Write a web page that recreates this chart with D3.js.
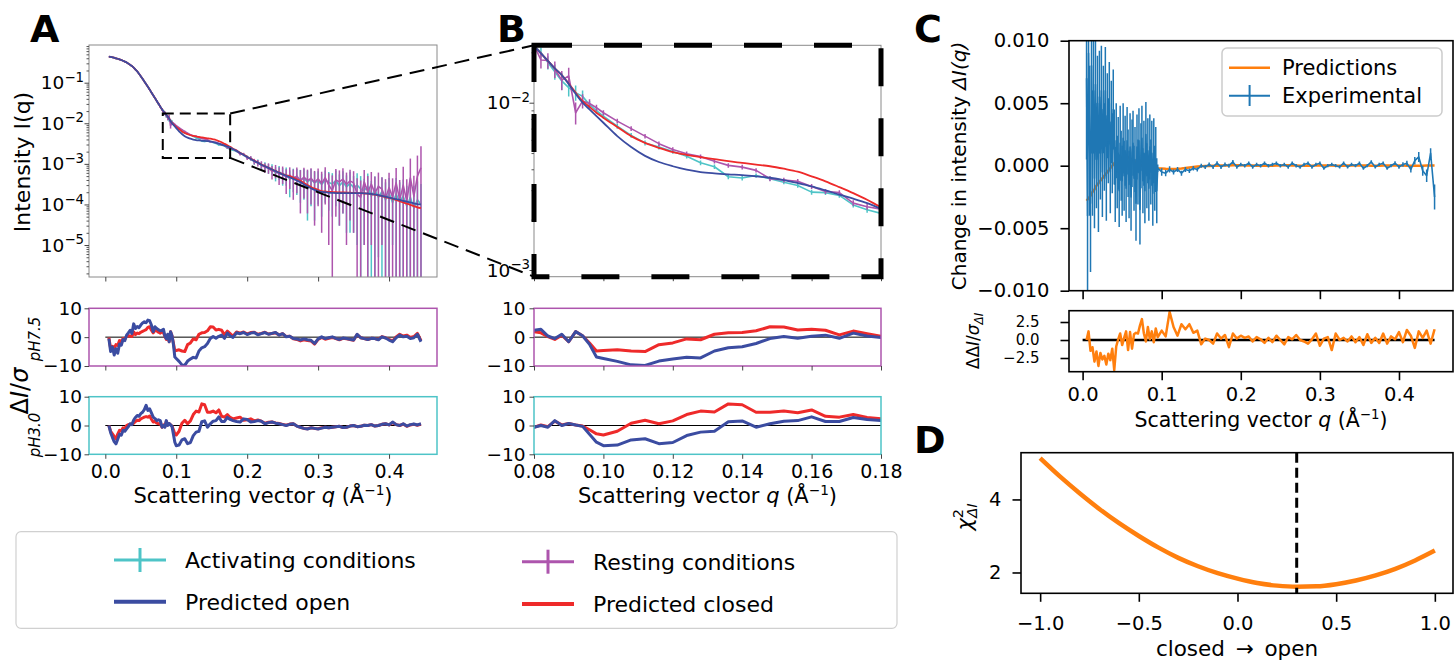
<!DOCTYPE html>
<html><head><meta charset="utf-8">
<script src="https://cdn.jsdelivr.net/npm/d3@7/dist/d3.min.js"></script>
<style>
body{margin:0;background:#fff;}
svg{display:block;font-family:"DejaVu Sans",sans-serif;}
</style></head><body>
<svg id="fig" width="1455" height="662"></svg>
<script>
// ---------------- DATA ----------------
const qExp = [0.005,0.0075,0.01,0.0125,0.015,0.0175,0.02,0.0225,0.025,0.0275,0.03,0.0325,0.035,0.0375,0.04,0.0425,0.045,0.0475,0.05,0.0525,0.055,0.0575,0.06,0.0625,0.065,0.0675,0.07,0.0725,0.075,0.0775,
0.08,0.082,0.084,0.086,0.088,0.09,0.092,0.094,0.096,0.098,0.1,0.104,0.108,0.112,0.116,0.12,0.124,0.128,0.132,0.136,0.14,0.144,0.148,0.152,0.156,0.16,0.164,0.168,0.172,0.176,0.18,
0.185,0.19,0.195,0.2,0.205,0.21,0.215,0.22,0.225,0.23,0.235,0.24,0.245,0.25,0.255,0.26,0.265,0.27,0.275,0.28,0.285,0.29,0.295,0.3,0.305,0.31,0.315,0.32,0.325,0.33,0.335,0.34,0.345,0.35,0.355,0.36,0.365,0.37,0.375,0.38,0.385,0.39,0.395,0.4,0.405,0.41,0.415,0.42,0.425,0.43,0.435,0.44,0.445];

const iOpen = [0.4365,0.4315,0.4217,0.4121,0.3981,0.3890,0.3758,0.3631,0.3467,0.3311,0.3162,0.2951,0.2754,0.2570,0.2344,0.2113,0.1905,0.1660,0.1445,0.1245,0.1072,0.0923,0.0794,0.0676,0.0575,0.0490,0.0417,0.0355,0.0302,0.0257,
0.02188,0.01972,0.01778,0.01603,0.01462,0.01294,0.01130,0.01000,0.00912,0.00832,0.00759,0.00631,0.00543,0.00481,0.00442,0.00417,0.00398,0.00385,0.00378,0.00373,0.00369,0.00363,0.00356,0.00345,0.00331,0.00316,0.00299,0.00282,0.00267,0.00251,0.00232,
2.089e-3,1.862e-3,1.660e-3,1.479e-3,1.318e-3,1.175e-3,1.072e-3,9.55e-4,8.71e-4,7.94e-4,7.24e-4,6.61e-4,6.03e-4,5.50e-4,5.07e-4,4.68e-4,4.27e-4,3.89e-4,3.55e-4,3.16e-4,2.82e-4,2.51e-4,2.29e-4,2.14e-4,2.04e-4,2.00e-4,1.95e-4,1.93e-4,1.91e-4,1.91e-4,1.91e-4,1.91e-4,1.91e-4,1.91e-4,1.91e-4,1.91e-4,1.88e-4,1.86e-4,1.82e-4,1.76e-4,1.70e-4,1.62e-4,1.55e-4,1.48e-4,1.41e-4,1.35e-4,1.29e-4,1.23e-4,1.17e-4,1.12e-4,1.07e-4,1.02e-4,1.00e-4];

const iClosed = [0.4365,0.4315,0.4217,0.4121,0.3981,0.3890,0.3758,0.3631,0.3467,0.3311,0.3162,0.2951,0.2754,0.2570,0.2344,0.2113,0.1905,0.1660,0.1445,0.1245,0.1072,0.0923,0.0794,0.0676,0.0575,0.0490,0.0417,0.0355,0.0302,0.0257,
0.02188,0.01972,0.01778,0.01603,0.01462,0.01303,0.01148,0.01023,0.00944,0.00871,0.00813,0.00716,0.00631,0.00575,0.00537,0.00507,0.00488,0.00473,0.00460,0.00447,0.00437,0.00427,0.00417,0.00403,0.00387,0.00363,0.00339,0.00313,0.00288,0.00263,0.00237,
2.13e-3,1.88e-3,1.68e-3,1.50e-3,1.33e-3,1.19e-3,1.08e-3,9.66e-4,8.8e-4,8.03e-4,7.32e-4,6.68e-4,6.1e-4,5.58e-4,5.2e-4,5.0e-4,4.57e-4,4.17e-4,3.80e-4,3.39e-4,3.02e-4,2.69e-4,2.45e-4,2.29e-4,2.14e-4,2.09e-4,2.04e-4,2.02e-4,2.0e-4,1.99e-4,1.98e-4,1.96e-4,1.95e-4,1.93e-4,1.91e-4,1.90e-4,1.87e-4,1.84e-4,1.80e-4,1.74e-4,1.68e-4,1.60e-4,1.52e-4,1.45e-4,1.38e-4,1.29e-4,1.20e-4,1.12e-4,1.05e-4,9.8e-5,9.1e-5,8.5e-5,8.1e-5];

const iAct = [0.437,0.432,0.421,0.413,0.397,0.390,0.375,0.364,0.346,0.332,0.315,0.296,0.274,0.258,0.233,0.212,0.189,0.167,0.143,0.1255,0.1065,0.0930,0.0788,0.0682,0.0570,0.0495,0.0412,0.0360,0.0298,0.0261,
0.02213,0.01995,0.01738,0.01531,0.01349,0.01230,0.01148,0.01091,0.00973,0.00895,0.00832,0.00724,0.00638,0.00575,0.00543,0.00511,0.00479,0.00437,0.00414,0.00361,0.00355,0.00367,0.00351,0.00335,0.00320,0.00292,0.00290,0.00279,0.00245,0.00229,0.00218,
2.05e-3,1.82e-3,1.68e-3,1.46e-3,1.36e-3,1.12e-3,1.10e-3,9.2e-4,9.0e-4,7.8e-4,7.6e-4,6.0e-4,6.4e-4,5.4e-4,5.5e-4,4.2e-4,4.8e-4,4.6e-4,4.1e-4,4.4e-4,3.6e-4,4.2e-4,3.4e-4,3.8e-4,3.1e-4,4.0e-4,3.5e-4,3.2e-4,3.9e-4,2.9e-4,3.6e-4,2.7e-4,3.3e-4,2.6e-4,3.0e-4,2.4e-4,2.2e-4,2.8e-4,1.6e-4,2.3e-4,1.5e-4,2.1e-4,1.3e-4,1.9e-4,1.1e-4,1.8e-4,1.2e-4,1.6e-4,9e-5,1.5e-4,8e-5,1.3e-4,1.0e-4];

const eAct = [9e-4,8e-4,8e-4,7e-4,7e-4,7e-4,6e-4,6e-4,6e-4,6e-4,6e-4,6e-4,6e-4,6e-4,6e-4,6e-4,6e-4,6e-4,7e-4,7e-4,7e-4,8e-4,8e-4,9e-4,9e-4,1.0e-3,1.0e-3,1.1e-3,1.2e-3,1.3e-3,
1.5e-3,1.4e-3,1.6e-3,1.6e-3,1.6e-3,1.4e-3,1.2e-3,9e-4,5e-4,4e-4,3e-4,2.5e-4,2e-4,2e-4,1.8e-4,1.6e-4,1.5e-4,1.4e-4,1.3e-4,1.2e-4,1.2e-4,1.1e-4,1.1e-4,1.0e-4,1.0e-4,1.0e-4,9e-5,9e-5,9e-5,9e-5,9e-5,
1.2e-4,1.3e-4,1.4e-4,1.5e-4,1.6e-4,1.7e-4,1.8e-4,1.9e-4,2.0e-4,2.1e-4,2.2e-4,2.3e-4,2.4e-4,2.5e-4,2.6e-4,2.7e-4,2.8e-4,2.9e-4,3.0e-4,3.1e-4,3.2e-4,3.3e-4,3.0e-4,2.8e-4,2.6e-4,2.9e-4,2.8e-4,2.7e-4,3.0e-4,2.6e-4,3.0e-4,2.5e-4,3.1e-4,2.4e-4,2.9e-4,2.6e-4,2.1e-4,3.0e-4,2.2e-4,2.6e-4,1.45e-4,2.5e-4,2.2e-4,2.6e-4,1.0e-4,2.7e-4,2.3e-4,2.5e-4,2.0e-4,2.6e-4,2.1e-4,2.4e-4,2.2e-4];

const iRest = [0.438,0.430,0.423,0.411,0.399,0.388,0.377,0.362,0.348,0.330,0.317,0.294,0.276,0.256,0.235,0.210,0.191,0.165,0.145,0.1238,0.1078,0.0917,0.0799,0.0670,0.0580,0.0486,0.0421,0.0351,0.0305,0.0254,
0.02213,0.01799,0.01786,0.01585,0.01365,0.01445,0.00871,0.01023,0.00989,0.00933,0.00871,0.00776,0.00700,0.00631,0.00569,0.00525,0.00495,0.00476,0.00447,0.00422,0.00412,0.00394,0.00351,0.00345,0.00339,0.00316,0.00295,0.00290,0.00251,0.00239,0.00231,
2.10e-3,1.75e-3,1.72e-3,1.40e-3,1.38e-3,1.15e-3,1.05e-3,9.6e-4,8.2e-4,8.0e-4,6.5e-4,6.9e-4,5.6e-4,5.9e-4,4.6e-4,5.3e-4,4.3e-4,5.0e-4,3.8e-4,4.7e-4,3.9e-4,4.4e-4,3.5e-4,4.3e-4,3.3e-4,4.6e-4,3.0e-4,2.2e-4,4.0e-4,3.6e-4,4.2e-4,3.1e-4,3.8e-4,3.4e-4,1.8e-4,1.5e-4,3.6e-4,2.0e-4,3.2e-4,1.9e-4,2.8e-4,2.4e-4,1.4e-4,2.6e-4,1.5e-4,3.4e-4,1.3e-4,3.0e-4,1.2e-4,4.5e-4,1.6e-4,5.0e-4,8.0e-4];

const eRest = [1.0e-3,9e-4,9e-4,8e-4,8e-4,8e-4,7e-4,7e-4,7e-4,7e-4,7e-4,7e-4,7e-4,7e-4,7e-4,7e-4,7e-4,7e-4,8e-4,8e-4,8e-4,9e-4,9e-4,1.0e-3,1.0e-3,1.1e-3,1.2e-3,1.3e-3,1.4e-3,1.6e-3,
1.8e-3,2.0e-3,1.9e-3,1.8e-3,1.8e-3,1.7e-3,1.3e-3,1.0e-3,6e-4,4e-4,3e-4,2.5e-4,2.2e-4,2e-4,1.8e-4,1.7e-4,1.6e-4,1.5e-4,1.4e-4,1.3e-4,1.3e-4,1.2e-4,1.2e-4,1.1e-4,1.1e-4,1.1e-4,1.0e-4,1.0e-4,1.0e-4,1.0e-4,1.0e-4,
1.3e-4,1.4e-4,1.5e-4,1.6e-4,1.7e-4,1.8e-4,1.9e-4,2.0e-4,2.2e-4,2.3e-4,2.4e-4,2.5e-4,2.6e-4,2.7e-4,2.8e-4,2.9e-4,3.0e-4,3.1e-4,3.2e-4,3.3e-4,3.3e-4,3.4e-4,3.2e-4,3.4e-4,3.1e-4,3.6e-4,2.9e-4,3.0e-4,3.5e-4,3.3e-4,3.6e-4,3.0e-4,3.4e-4,3.2e-4,2.6e-4,2.4e-4,3.5e-4,3.0e-4,3.1e-4,3.0e-4,3.3e-4,2.3e-4,2.8e-4,3.4e-4,2.9e-4,4.5e-4,2.7e-4,5.5e-4,3.0e-4,9.0e-4,3.5e-4,1.1e-3,1.9e-3];

// residuals  (I_exp - I_pred)/sigma
const resRestOpen = [-0.5,-5.0,-3.4,-6.2,-4.0,-5.6,-2.4,-2.8,-0.8,-1.2,0.7,1.5,2.4,1.3,4.6,3.0,3.7,3.3,4.2,4.9,5.3,5.0,5.9,5.7,4.2,1.9,3.6,3.0,2.6,2.2,
2.4,2.7,0.4,-0.5,1.0,-1.6,1.9,0.5,-2.5,-6.9,-7.4,-8.4,-9.6,-9.8,-8.3,-7.6,-7.0,-7.2,-4.8,-3.7,-3.3,-2.2,-0.5,0.2,-0.4,0.3,0.7,-0.4,1.4,0.4,-0.1,
1.5,1.2,1.6,0.9,1.4,1.6,0.8,1.2,1.6,1.0,1.3,1.6,0.7,1.2,0.1,0.3,-0.5,-0.6,-1.0,-0.6,-0.9,-1.1,-2.2,-0.6,0.1,-0.5,-0.2,0.1,-0.4,-0.8,-0.3,-0.5,-0.7,-1.0,1.0,-0.2,-0.5,-0.8,-0.4,-0.5,-0.9,0.1,-0.3,-1.0,-1.6,-0.2,0.7,0.1,0.3,-0.5,-0.2,1.0,-1.6];
const resRestClosed = [-0.1,-3.9,-3.2,-3.8,-2.6,-2.9,-1.2,-1.6,-0.5,-0.7,0.3,0.5,0.4,0.2,1.8,0.9,1.4,1.2,1.7,2.0,2.3,2.6,3.4,3.6,2.4,1.5,2.4,2.2,1.7,1.4,
1.9,1.5,0.2,-0.8,0.7,-1.6,1.9,0.5,-2.0,-4.8,-4.6,-4.4,-4.8,-5.0,-2.6,-2.0,-0.6,-0.9,1.0,1.5,1.6,2.2,3.6,3.5,2.5,2.7,2.4,0.8,2.1,1.2,0.3,
1.8,1.4,1.8,1.1,1.6,1.7,1.0,1.3,1.7,1.1,1.3,1.5,0.8,1.2,0.2,0.3,-0.6,-0.8,-1.3,-0.9,-1.2,-1.3,-2.4,-0.8,-0.1,-0.7,-0.4,-0.1,-0.5,-0.9,-0.4,-0.6,-0.8,-1.1,0.9,-0.2,-0.5,-0.8,-0.4,-0.5,-0.8,0.2,-0.2,-0.8,-1.3,0.1,1.0,0.4,0.7,-0.1,0.2,1.3,-1.2];
const resActOpen = [0.0,-2.5,-4.1,-5.6,-6.4,-4.8,-3.0,-3.4,-1.7,-2.0,-1.2,-0.4,0.6,0.3,1.9,2.8,3.5,3.2,4.1,4.6,5.5,7.0,5.2,5.8,4.4,2.9,2.4,1.7,2.0,1.7,
-0.6,0.0,-0.6,1.7,0.0,0.7,0.2,-0.3,-3.0,-5.8,-7.0,-6.8,-5.0,-4.6,-6.3,-5.9,-3.5,-2.3,-2.0,1.3,1.6,-0.6,0.6,1.5,1.7,3.0,1.4,1.4,2.8,2.1,1.7,
1.4,1.2,2.3,2.1,1.2,1.4,1.7,1.5,0.6,1.0,1.2,0.8,0.6,0.3,0.0,0.4,0.6,-0.2,-0.6,-1.0,-1.2,-0.8,-1.0,-1.2,-0.9,-0.6,-0.8,-0.6,-0.4,-0.3,-0.7,-0.6,-0.2,0.0,-0.4,-0.3,0.1,0.0,0.3,-0.2,0.0,0.4,0.6,0.2,1.2,0.3,0.0,0.6,-0.2,0.3,0.5,0.2,0.6];
const resActClosed = [0.0,-2.0,-2.9,-3.8,-4.6,-3.0,-1.7,-1.9,-0.8,-1.0,0.0,0.3,0.5,0.4,0.8,1.4,1.8,1.7,2.3,2.6,2.9,3.1,2.9,3.3,2.2,1.2,1.4,0.8,0.6,0.6,
-0.6,0.2,-0.4,1.5,0.2,0.7,0.2,-0.2,-1.5,-2.9,-3.3,-2.0,0.8,1.8,0.6,1.6,3.8,5.0,4.7,7.5,7.2,4.6,4.6,5.0,4.4,5.4,3.2,2.9,3.8,2.8,2.3,
2.6,2.9,1.8,2.0,2.3,1.6,1.9,1.5,0.8,1.1,1.2,0.9,0.7,0.4,0.1,0.5,0.6,-0.2,-0.6,-1.0,-1.1,-0.8,-1.0,-1.1,-0.8,-0.6,-0.8,-0.6,-0.4,-0.3,-0.7,-0.6,-0.2,0.0,-0.4,-0.3,0.1,0.0,0.3,-0.2,0.0,0.4,0.6,0.2,1.0,0.3,0.0,0.5,-0.3,0.2,0.4,0.1,0.5];

// panel C : experimental difference curve (dense grid)
const qCExp = [0.005,0.00625,0.0075,0.00875,0.01,0.01125,0.0125,0.01375,
0.015,0.01625,0.0175,0.01875,0.02,0.02125,0.0225,0.02375,0.025,0.02625,0.0275,0.02875,0.03,0.03125,0.0325,0.03375,0.035,0.03625,0.0375,0.03875,
0.04,0.04125,0.0425,0.04375,0.045,0.04625,0.0475,0.04875,0.05,0.05125,0.0525,0.05375,0.055,0.05625,0.0575,0.05875,0.06,0.06125,0.0625,0.06375,0.065,0.06625,0.0675,0.06875,0.07,0.07125,0.0725,0.07375,0.075,0.07625,0.0775,0.07875,0.08,0.08125,0.0825,0.08375,0.085,0.08625,0.0875,0.08875,0.09,0.09125,0.0925,0.09375,
0.095,0.1,0.105,0.11,0.115,0.12,0.125,0.13,0.135,0.14,0.145,0.15,0.155,0.16,0.165,0.17,0.175,0.18,0.185,0.19,0.195,0.2,0.205,0.21,0.215,0.22,0.225,0.23,0.235,0.24,0.245,0.25,0.255,0.26,0.265,0.27,0.275,0.28,0.285,0.29,0.295,0.3,0.305,0.31,0.315,0.32,0.325,0.33,0.335,0.34,0.345,0.35,0.355,0.36,0.365,0.37,0.375,0.38,0.385,0.39,0.395,0.4,0.405,0.41,0.415,0.42,0.425,0.43,0.435,0.44,0.445];
const dIExp = [0.0070,-0.0040,0.0090,0.0020,-0.0030,0.0080,0.0010,0.0060,
-0.0010,0.0065,0.0005,0.0050,-0.0015,0.0055,0.0010,0.0060,-0.0005,0.0045,0.0015,0.0060,-0.0010,0.0040,0.0020,0.0050,-0.0005,0.0035,0.0010,0.0045,
0.0015,-0.0015,0.0020,-0.0005,0.0010,-0.0020,0.0018,0.0000,-0.0012,0.0022,-0.0008,0.0012,-0.0018,0.0020,0.0002,-0.0015,0.0015,-0.0025,0.0010,0.0018,-0.0010,0.0005,-0.0030,0.0015,-0.0005,0.0020,-0.0035,0.0008,0.0022,-0.0012,0.0010,-0.0020,0.0025,-0.0008,0.0012,-0.0018,0.0015,-0.0005,0.0010,-0.0022,0.0012,-0.0010,0.0005,-0.0020,
-0.0002,-0.0005,-0.0006,-0.0003,-0.0005,-0.0003,-0.0006,-0.0003,-0.0004,-0.0002,-0.0003,0.0,-0.0001,0.0001,-0.0001,0.0002,-0.0001,0.0001,0.0,0.0003,-0.0001,0.0001,0.0,0.0002,-0.0001,0.0001,0.0,0.0002,0.0,0.0001,0.0002,0.0,0.0001,-0.0001,0.0002,0.0,-0.0001,0.0001,0.0002,-0.0001,0.0001,0.0002,-0.0002,0.0,0.0001,0.0,-0.0001,0.0002,-0.0001,0.0001,0.0,0.0002,-0.0002,0.0,0.0003,-0.0001,0.0001,0.0002,-0.0002,0.0,0.0002,-0.0001,0.0001,0.0002,-0.0003,0.0004,0.0007,-0.0004,-0.0008,0.0010,-0.0025];
const dIErr = [0.0065,0.0070,0.0060,0.0060,0.0055,0.0055,0.0050,0.0050,
0.0040,0.0040,0.0039,0.0038,0.0038,0.0037,0.0037,0.0036,0.0036,0.0035,0.0035,0.0035,0.0034,0.0034,0.0034,0.0033,0.0033,0.0033,0.0032,0.0032,
0.0030,0.0030,0.0030,0.0029,0.0029,0.0029,0.0030,0.0028,0.0028,0.0028,0.0028,0.0028,0.0027,0.0027,0.0027,0.0027,0.0027,0.0027,0.0027,0.0026,0.0026,0.0026,0.0030,0.0026,0.0026,0.0026,0.0028,0.0026,0.0026,0.0026,0.0026,0.0026,0.0026,0.0026,0.0026,0.0026,0.0026,0.0026,0.0026,0.0026,0.0026,0.0026,0.0026,0.0026,
0.0003,0.0003,0.00025,0.00025,0.0002,0.0002,0.0002,0.0002,0.00018,0.00018,0.00016,0.00016,0.00016,0.00016,0.00016,0.00016,0.00016,0.00016,0.00016,0.00016,
0.00014,0.00014,0.00014,0.00014,0.00014,0.00014,0.00014,0.00014,0.00014,0.00014,0.00014,0.00014,0.00014,0.00014,0.00014,0.00014,0.00014,0.00014,0.00014,0.00014,
0.00013,0.00013,0.00013,0.00013,0.00013,0.00013,0.00013,0.00013,0.00013,0.00013,0.00013,0.00013,0.00013,0.00013,0.00013,0.00013,0.00013,0.00013,0.00013,0.00013,
0.00015,0.00015,0.00018,0.0002,0.00025,0.0003,0.0004,0.0004,0.0005,0.0004,0.001];

// panel C : prediction and normalised residual
const qC = [0.005,0.0075,0.01,0.0125,0.015,0.0175,0.02,0.0225,0.025,0.0275,0.03,0.0325,0.035,0.0375,0.04,0.0425,0.045,0.0475,0.05,0.0525,0.055,0.0575,0.06,0.0625,0.065,0.0675,0.07,0.0725,0.075,0.0775,0.08,0.0825,0.085,0.0875,0.09,0.0925,
0.095,0.1,0.105,0.11,0.115,0.12,0.125,0.13,0.135,0.14,0.145,0.15,0.155,0.16,0.165,0.17,0.175,0.18,0.185,0.19,0.195,0.2,0.205,0.21,0.215,0.22,0.225,0.23,0.235,0.24,0.245,0.25,0.255,0.26,0.265,0.27,0.275,0.28,0.285,0.29,0.295,0.3,0.305,0.31,0.315,0.32,0.325,0.33,0.335,0.34,0.345,0.35,0.355,0.36,0.365,0.37,0.375,0.38,0.385,0.39,0.395,0.4,0.405,0.41,0.415,0.42,0.425,0.43,0.435,0.44,0.445];
const dIPred = [-0.0028,-0.0026,-0.0024,-0.0021,-0.0019,-0.0016,-0.0014,-0.0012,-0.0010,-0.0008,-0.0006,-0.0004,-0.0002,0.0000,0.0002,0.0004,0.0005,0.0006,0.0007,0.0007,0.0007,0.0007,0.0006,0.0005,0.0004,0.0003,0.0002,0.0001,0.0000,-0.0001,-0.0001,-0.0001,-0.0001,-0.0001,-0.0001,-0.0001,
-0.0002,-0.00022,-0.00025,-0.00026,-0.00026,-0.00025,-0.00022,-0.00018,-0.00014,-0.0001,-0.00007,-0.00005,-0.00003,-0.00002,-0.00001,
0,0.00001,0.00002,0.00002,0.00003,0.00003,0.00003,0.00002,0.00002,0.00001,0,0,-0.00001,-0.00001,0,0.00001,0.00002,0.00003,0.00003,0.00002,0.00001,0,0,-0.00001,0,0.00001,0.00001,0.00002,0.00002,0.00001,0,0,0,0.00001,0.00001,0.00002,0.00002,0.00001,0.00001,0,0,0,0.00001,0.00001,0.00001,0.00002,0.00002,0.00001,0,0,-0.00001,-0.00001,0,0.00001,0.00001,0.00001];
const dIRes = [0.0,1.2,-1.5,-1.0,-3.0,-1.6,-3.6,-1.8,-2.7,-2.2,-3.4,-1.9,-2.8,-1.2,-4.2,-0.9,0.1,0.9,-0.7,0.3,1.2,-1.4,1.1,-1.2,0.8,1.0,0.9,2.0,2.9,0.9,-0.2,1.8,0.1,1.2,-0.3,1.6,
0.4,1.3,0.5,3.9,1.8,0.6,2.2,1.5,2.2,1.0,1.3,-0.6,0.2,0.0,-0.5,0.9,0.2,0.7,-1.0,0.9,0.2,0.6,0.3,0.5,-0.2,0.4,0.1,-0.4,0.3,-0.3,0.6,0.0,-0.6,0.4,0.1,0.7,0.0,-0.2,-0.5,0.1,0.9,-0.8,0.2,0.4,-1.4,0.9,0.0,0.3,-0.2,0.5,-0.3,0.4,-0.7,0.8,-0.4,0.3,-0.4,0.9,-0.5,0.5,0.1,1.1,-0.3,1.4,0.6,-1.1,1.2,0.3,1.3,-0.5,1.5];

// panel D
const fracOpen = [-1.0,-0.9,-0.8,-0.7,-0.6,-0.5,-0.4,-0.3,-0.2,-0.1,0.0,0.1,0.2,0.3,0.4,0.5,0.6,0.7,0.8,0.9,1.0];
const chi2 = [5.13,4.63,4.17,3.74,3.35,3.0,2.68,2.4,2.17,1.98,1.83,1.71,1.64,1.61,1.62,1.68,1.78,1.92,2.1,2.33,2.6];
const bestFrac = [0.3];

// zoom window of A shown in B
const zoomQ = [0.081, 0.176];
const zoomI = [0.0014, 0.0174];

// ticks & labels
const xTicksA = [0, 0.1, 0.2, 0.3, 0.4];
const xTicksB = [0.08, 0.10, 0.12, 0.14, 0.16, 0.18];
const resTicks = [-10, 0, 10];
const cYTicks = [-0.01, -0.005, 0, 0.005, 0.01];
const cResTicks = [-2.5, 0, 2.5];
const dXTicks = [-1, -0.5, 0, 0.5, 1];
const dYTicks = [2, 4];
const legendLabels = ['Activating conditions', 'Predicted open', 'Resting conditions', 'Predicted closed'];
const legendC = ['Predictions', 'Experimental'];

// ---------------- DRAWING ----------------
const svg = d3.select('#fig');
const defs = svg.append('defs');
const F = 'DejaVu Sans';
const COL = {act:'#4ec4c7', rest:'#ad55ad', open:'#3b4ca1', closed:'#ee2a2a', blue:'#1f77b4', orange:'#ff7f0e'};

function clipRect(id, x0, x1, y0, y1){
  defs.append('clipPath').attr('id', id).append('rect')
    .attr('x', x0).attr('y', y0).attr('width', x1 - x0).attr('height', y1 - y0);
  return `url(#${id})`;
}
function frame(x0, x1, y0, y1, color, w){
  return svg.append('rect').attr('x', x0).attr('y', y0).attr('width', x1 - x0).attr('height', y1 - y0)
    .attr('fill', 'none').attr('stroke', color).attr('stroke-width', w);
}
function axis(gen, tr, o = {}){
  const g = svg.append('g').attr('transform', tr).call(gen);
  g.select('.domain').remove();
  g.selectAll('.tick line').attr('stroke', o.tc || '#000').attr('stroke-width', o.tw || 1);
  g.selectAll('.tick text').attr('font-family', F).attr('font-size', o.fs || 19).attr('fill', '#000');
  return g;
}
function rich(parent, x, y, parts, fs, anchor){
  const t = parent.append('text').attr('x', x).attr('y', y).attr('font-family', F)
    .attr('font-size', fs).attr('text-anchor', anchor || 'start').attr('fill', '#000');
  let shift = 0;
  parts.forEach(p => {
    const s = t.append('tspan').text(p.t);
    if (p.it) s.attr('font-style', 'italic');
    const target = p.sup ? -0.4 * fs : (p.sub ? 0.25 * fs : 0);
    if (p.sup || p.sub) s.attr('font-size', fs * (p.sc || 0.7));
    if (p.dx) s.attr('dx', p.dx);
    const dy = target - shift;
    if (dy) s.attr('dy', dy);
    shift = target;
  });
  return t;
}
function vlabel(xc, yc, parts, fs){
  return rich(svg, 0, 0, parts, fs, 'middle').attr('transform', `translate(${xc + 0.36 * fs},${yc}) rotate(-90)`);
}
function logMinor(dom){
  const out = [];
  for (let d = -7; d <= 0; d++) for (let m = 2; m <= 9; m++){
    const v = m * Math.pow(10, d);
    if (v > dom[0] && v < dom[1]) out.push(v);
  }
  return out;
}
function logMajor(dom){
  const out = [];
  for (let d = -7; d <= 0; d++){ const v = Math.pow(10, d); if (v >= dom[0] && v <= dom[1]) out.push(v); }
  return out;
}

// draw intensity panel (A or B)
function intensityPanel(xs, ys, id){
  const [x0, x1] = xs.range(); const [y1, y0] = ys.range();
  const g = svg.append('g').attr('clip-path', clipRect(id, x0, x1, y0, y1));
  const series = [[iAct, eAct, COL.act], [iRest, eRest, COL.rest]];
  series.forEach(([I, E, c]) => {
    g.append('g').selectAll('line').data(qExp).join('line')
      .attr('x1', d => xs(d)).attr('x2', d => xs(d))
      .attr('y1', (d, i) => (I[i] - E[i] > 0 ? Math.min(ys(I[i] - E[i]), y1 + 10) : y1 + 10))
      .attr('y2', (d, i) => ys(I[i] + E[i]))
      .attr('stroke', c).attr('stroke-width', 1.5);
    g.append('path').datum(qExp)
      .attr('d', d3.line().x(d => xs(d)).y((d, i) => ys(I[i])))
      .attr('fill', 'none').attr('stroke', c).attr('stroke-width', 1.6).attr('stroke-linejoin', 'round');
  });
  [[iClosed, COL.closed], [iOpen, COL.open]].forEach(([I, c]) => {
    g.append('path').datum(qExp)
      .attr('d', d3.line().curve(d3.curveMonotoneX).x(d => xs(d)).y((d, i) => ys(I[i])))
      .attr('fill', 'none').attr('stroke', c).attr('stroke-width', 1.8);
  });
}

// ---------- Panel A ----------
const xA = d3.scaleLinear().domain([-0.023, 0.4676]).range([89, 437]);
const yA = d3.scaleLog().domain([1.63e-6, 0.849]).range([277, 45]);
intensityPanel(xA, yA, 'clipA');
frame(89, 437, 45, 277, '#8a8a8a', 1);
axis(d3.axisLeft(yA).tickValues(logMinor(yA.domain())).tickSize(2.5).tickFormat(''), 'translate(89,0)', {tc:'#555'});
axis(d3.axisLeft(yA).tickValues(logMajor(yA.domain())).tickSize(4.5).tickFormat(''), 'translate(89,0)', {tc:'#444'});
axis(d3.axisBottom(xA).tickValues(xTicksA).tickSize(4.5).tickFormat(''), 'translate(0,277)', {tc:'#444'});
logMajor(yA.domain()).forEach(v => {
  rich(svg, 84, yA(v) + 6.5, [{t:'10'}, {t:'−' + Math.round(-Math.log10(v)), sup:1, sc:0.72}], 18.5, 'end');
});
vlabel(22, 162, [{t:'Intensity I(q)'}], 22);

// ---------- Panel B ----------
const xB = d3.scaleLinear().domain([0.08, 0.18]).range([534, 881]);
const yB = d3.scaleLog().domain([0.000912, 0.02203]).range([276.7, 45.3]);
intensityPanel(xB, yB, 'clipB');
frame(534, 881, 45.3, 276.7, '#8a8a8a', 1);
axis(d3.axisLeft(yB).tickValues(logMinor(yB.domain())).tickSize(2.5).tickFormat(''), 'translate(534,0)', {tc:'#555'});
axis(d3.axisLeft(yB).tickValues(logMajor(yB.domain())).tickSize(4.5).tickFormat(''), 'translate(534,0)', {tc:'#444'});
axis(d3.axisBottom(xB).tickValues(xTicksB).tickSize(4.5).tickFormat(''), 'translate(0,276.7)', {tc:'#444'});
logMajor(yB.domain()).forEach(v => {
  rich(svg, 530, yB(v) + 6.5, [{t:'10'}, {t:'−' + Math.round(-Math.log10(v)), sup:1, sc:0.72}], 18.5, 'end');
});
svg.append('rect').attr('x', xB.range()[0]).attr('y', yB.range()[1])
  .attr('width', xB.range()[1] - xB.range()[0]).attr('height', yB.range()[0] - yB.range()[1])
  .attr('fill', 'none').attr('stroke', '#000').attr('stroke-width', 5).attr('stroke-dasharray', '38,32');

// zoom box on A + connectors
svg.append('rect').attr('x', xA(zoomQ[0])).attr('y', yA(zoomI[1]))
  .attr('width', xA(zoomQ[1]) - xA(zoomQ[0])).attr('height', yA(zoomI[0]) - yA(zoomI[1]))
  .attr('fill', 'none').attr('stroke', '#000').attr('stroke-width', 2).attr('stroke-dasharray', '11,6');
[[zoomI[1], yB.domain()[1]], [zoomI[0], yB.domain()[0]]].forEach(([ia, ib]) => {
  svg.append('line').attr('x1', xA(zoomQ[1])).attr('y1', yA(ia)).attr('x2', xB(0.08)).attr('y2', yB(ib))
    .attr('stroke', '#000').attr('stroke-width', 2).attr('stroke-dasharray', '15,8');
});

// ---------- Residual panels A & B ----------
function residualPanel(xs, yTop, yBot, border, rClosed, rOpen, id, labels, yLabPad){
  const ys = d3.scaleLinear().domain([-10, 10]).range([yBot, yTop]);
  const [x0, x1] = xs.range();
  const g = svg.append('g').attr('clip-path', clipRect(id, x0, x1, yTop, yBot));
  g.append('line').attr('x1', xs(0)).attr('x2', xs(d3.max(qExp))).attr('y1', ys(0)).attr('y2', ys(0))
    .attr('stroke', '#000').attr('stroke-width', 1);
  [[rClosed, COL.closed], [rOpen, COL.open]].forEach(([R, c]) => {
    g.append('path').datum(qExp).attr('d', d3.line().x(d => xs(d)).y((d, i) => ys(R[i])))
      .attr('fill', 'none').attr('stroke', c).attr('stroke-width', 3).attr('stroke-linejoin', 'round');
  });
  frame(x0, x1, yTop, yBot, border, 1.5);
  axis(d3.axisLeft(ys).tickValues(resTicks).tickSize(4.5).tickPadding(yLabPad).tickFormat(d3.format('d')), `translate(${x0},0)`, {fs:18.5, tc:'#444'});
  axis(d3.axisBottom(xs).tickValues(labels.ticks).tickSize(4.5).tickPadding(5.7).tickFormat(labels.show ? labels.fmt : ''), `translate(0,${yBot})`, {fs:19, tc:'#444'});
}
residualPanel(xA, 308.3, 366, COL.rest, resRestClosed, resRestOpen, 'clipAr1', {ticks:xTicksA, show:false}, 2.5);
residualPanel(xA, 396.7, 454.3, COL.act, resActClosed, resActOpen, 'clipAr2', {ticks:xTicksA, show:true, fmt:d3.format('.1f')}, 2.5);
residualPanel(xB, 308.3, 366, COL.rest, resRestClosed, resRestOpen, 'clipBr1', {ticks:xTicksB, show:false}, 4);
residualPanel(xB, 396.7, 454.3, COL.act, resActClosed, resActOpen, 'clipBr2', {ticks:xTicksB, show:true, fmt:d3.format('.2f')}, 4);

vlabel(19, 391, [{t:'Δ'}, {t:'I', it:1}, {t:'/'}, {t:'σ', it:1}], 24);
vlabel(35, 339, [{t:'pH7.5', it:1}], 15);
vlabel(35, 435, [{t:'pH3.0', it:1}], 15);

const qLabel = [{t:'Scattering vector '}, {t:'q', it:1}, {t:' (Å'}, {t:'−1', sup:1, sc:0.65}, {t:')'}];
rich(svg, 263, 503, qLabel, 21, 'middle');
rich(svg, 707.5, 503, qLabel, 21, 'middle');

// ---------- Panel C ----------
const xC = d3.scaleLinear().domain([-0.0172, 0.4683]).range([1069, 1453]);
const yC = d3.scaleLinear().domain([-0.01, 0.01]).range([290.7, 40.7]);
{
  const g = svg.append('g').attr('clip-path', clipRect('clipC', 1069, 1453, 40.7, 290.7));
  g.append('path').datum(qC).attr('d', d3.line().x(d => xC(d)).y((d, i) => yC(dIPred[i])))
    .attr('fill', 'none').attr('stroke', COL.orange).attr('stroke-width', 2.5);
  g.append('g').selectAll('line').data(qCExp).join('line')
    .attr('x1', d => xC(d)).attr('x2', d => xC(d))
    .attr('y1', (d, i) => yC(dIExp[i] - dIErr[i])).attr('y2', (d, i) => yC(dIExp[i] + dIErr[i]))
    .attr('stroke', COL.blue).attr('stroke-width', 1.5);
  g.append('path').datum(qCExp).attr('d', d3.line().x(d => xC(d)).y((d, i) => yC(dIExp[i])))
    .attr('fill', 'none').attr('stroke', COL.blue).attr('stroke-width', 1.6).attr('stroke-linejoin', 'round');
}
frame(1069, 1453, 40.7, 290.7, '#000', 1.6);
axis(d3.axisLeft(yC).tickValues(cYTicks).tickSize(8.5).tickPadding(11).tickFormat(d3.format('.3f')), 'translate(1069,0)', {fs:19.5, tw:1.6});
axis(d3.axisBottom(xC).tickValues(xTicksA).tickSize(8.5).tickFormat(''), 'translate(0,290.7)', {tw:1.6});
vlabel(959, 166, [{t:'Change in intensity '}, {t:'ΔI(q)', it:1}], 20);
{
  const lg = svg.append('g');
  lg.append('rect').attr('x', 1222).attr('y', 48).attr('width', 220).attr('height', 68).attr('rx', 5)
    .attr('fill', '#fff').attr('fill-opacity', 0.8).attr('stroke', '#cccccc').attr('stroke-width', 1.5);
  lg.append('line').attr('x1', 1229).attr('x2', 1270).attr('y1', 67.7).attr('y2', 67.7).attr('stroke', COL.orange).attr('stroke-width', 2.5);
  lg.append('line').attr('x1', 1229).attr('x2', 1270).attr('y1', 95.7).attr('y2', 95.7).attr('stroke', COL.blue).attr('stroke-width', 2);
  lg.append('line').attr('x1', 1249.6).attr('x2', 1249.6).attr('y1', 85).attr('y2', 106).attr('stroke', COL.blue).attr('stroke-width', 2);
  rich(lg, 1282, 67.7 + 7.6, [{t:legendC[0]}], 21);
  rich(lg, 1282, 95.7 + 7.6, [{t:legendC[1]}], 21);
}
const yCr = d3.scaleLinear().domain([-4.4, 4.07]).range([371.7, 310.7]);
{
  const g = svg.append('g').attr('clip-path', clipRect('clipCr', 1069, 1453, 310.7, 371.7));
  g.append('line').attr('x1', xC(0)).attr('x2', xC(d3.max(qC))).attr('y1', yCr(0)).attr('y2', yCr(0))
    .attr('stroke', '#000').attr('stroke-width', 2.5);
  g.append('path').datum(qC).attr('d', d3.line().x(d => xC(d)).y((d, i) => yCr(dIRes[i])))
    .attr('fill', 'none').attr('stroke', COL.orange).attr('stroke-width', 2.5).attr('stroke-linejoin', 'round');
}
frame(1069, 1453, 310.7, 371.7, '#000', 1.6);
axis(d3.axisLeft(yCr).tickValues(cResTicks).tickSize(8.5).tickPadding(21).tickFormat(d3.format('.1f')), 'translate(1069,0)', {fs:15, tw:1.6});
axis(d3.axisBottom(xC).tickValues(xTicksA).tickSize(8.5).tickPadding(6.5).tickFormat(d3.format('.1f')), 'translate(0,371.7)', {fs:19.5, tw:1.6});
vlabel(973, 341, [{t:'ΔΔ'}, {t:'I', it:1}, {t:'/'}, {t:'σ', it:1}, {t:'ΔI', it:1, sub:1}], 17);
rich(svg, 1261, 427, qLabel, 20.5, 'middle');

// ---------- Panel D ----------
const xD = d3.scaleLinear().domain([-1.097, 1.092]).range([1021, 1453]);
const yD = d3.scaleLinear().domain([1.43, 5.28]).range([593.3, 452.7]);
{
  const g = svg.append('g').attr('clip-path', clipRect('clipD', 1021, 1453, 452.7, 593.3));
  g.append('path').datum(fracOpen).attr('d', d3.line().curve(d3.curveMonotoneX).x(d => xD(d)).y((d, i) => yD(chi2[i])))
    .attr('fill', 'none').attr('stroke', COL.orange).attr('stroke-width', 4.5);
  g.selectAll('.best').data(bestFrac).join('line').attr('x1', d => xD(d)).attr('x2', d => xD(d))
    .attr('y1', yD.range()[1]).attr('y2', yD.range()[0])
    .attr('stroke', '#000').attr('stroke-width', 3).attr('stroke-dasharray', '10,5');
}
frame(1021, 1453, 452.7, 593.3, '#000', 1.6);
axis(d3.axisLeft(yD).tickValues(dYTicks).tickSize(8.5).tickPadding(11).tickFormat(d3.format('d')), 'translate(1021,0)', {fs:19.5, tw:1.6});
axis(d3.axisBottom(xD).tickValues(dXTicks).tickSize(8.5).tickPadding(14).tickFormat(d3.format('.1f')), 'translate(0,593.3)', {fs:19.5, tw:1.6});
vlabel(964, 517, [{t:'χ', it:1}, {t:'2', sup:1}, {t:'ΔI', it:1, sub:1, dx:-9}], 21);
rich(svg, 1237, 656, [{t:'closed\u2002→\u2002open'}], 21.5, 'middle');

// ---------- Bottom legend ----------
{
  const lg = svg.append('g');
  lg.append('rect').attr('x', 16).attr('y', 531.7).attr('width', 881).attr('height', 96.6).attr('rx', 5)
    .attr('fill', '#fff').attr('stroke', '#d0d0d0').attr('stroke-width', 1.2);
  const items = [
    {x:114, y:560, c:COL.act, err:true, w:3},
    {x:114, y:601.7, c:COL.open, err:false, w:4},
    {x:522, y:561.7, c:COL.rest, err:true, w:3},
    {x:522, y:604, c:COL.closed, err:false, w:4}
  ];
  items.forEach((it, k) => {
    lg.append('line').attr('x1', it.x).attr('x2', it.x + 52).attr('y1', it.y).attr('y2', it.y).attr('stroke', it.c).attr('stroke-width', it.w);
    if (it.err) lg.append('line').attr('x1', it.x + 26).attr('x2', it.x + 26).attr('y1', it.y - 12).attr('y2', it.y + 12).attr('stroke', it.c).attr('stroke-width', 3);
    rich(lg, it.x + 71, it.y + 8, [{t:legendLabels[k]}], 22);
  });
}

// ---------- Panel letters ----------
[['A', 30, 42], ['B', 497, 42], ['C', 914, 42], ['D', 914, 453]].forEach(([t, x, y]) => {
  svg.append('text').attr('x', x).attr('y', y).attr('font-family', F).attr('font-weight', 'bold').attr('font-size', 38).text(t);
});
</script>
</body></html>
